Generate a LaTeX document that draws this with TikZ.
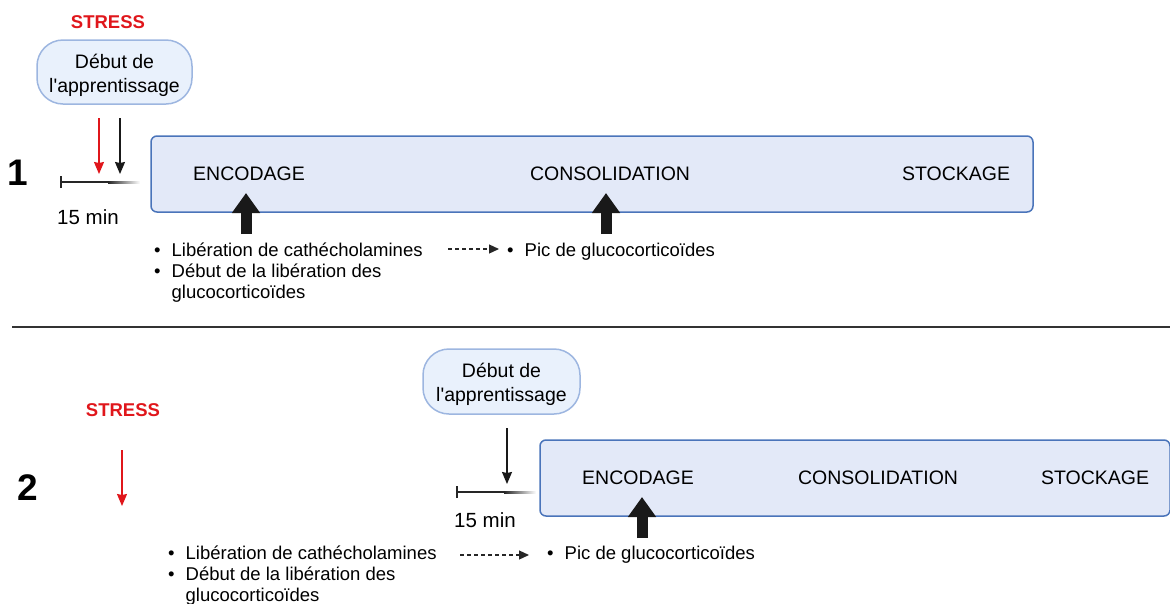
\documentclass[tikz,border=0pt]{standalone}
\usepackage{fontspec}
\setmainfont{Liberation Sans}
\usetikzlibrary{arrows.meta}

\definecolor{stressred}{HTML}{E0161B}
\definecolor{phasefill}{HTML}{E3E9F8}
\definecolor{phaseline}{HTML}{4A74BA}
\definecolor{learnfill}{HTML}{E9F1FC}
\definecolor{learnline}{HTML}{9DB6E0}

\tikzset{
  phasebox/.style={draw=phaseline, fill=phasefill, line width=1.5pt, rounded corners=6pt, minimum height=76pt},
  learnbox/.style={draw=learnline, fill=learnfill, line width=1.5pt, rounded corners=26pt, align=center,
    minimum height=64pt, inner sep=0pt, font=\fontsize{19.5}{24}\selectfont},
  phaselabel/.style={font=\fontsize{19.5}{23}\selectfont, inner sep=0pt},
  stresslabel/.style={font=\fontsize{18.5}{22}\selectfont\bfseries, text=stressred, inner sep=0pt},
  numlabel/.style={font=\fontsize{37}{40}\selectfont\bfseries, inner sep=0pt},
  minlabel/.style={font=\fontsize{20.5}{24}\selectfont, inner sep=0pt},
  listtext/.style={font=\fontsize{18.5}{21}\selectfont, inner sep=0pt, anchor=base west},
  stressarrow/.style={stressred, line width=1.4pt, -{Stealth[length=12pt,width=10pt,inset=1pt]}},
  learnarrow/.style={black!90, line width=1.4pt, -{Stealth[length=12pt,width=10pt,inset=1pt]}},
  bigarrow/.style={black!90, line width=11pt, -{Triangle[width=27pt,length=20pt]}},
  thenarrow/.style={black!85, line width=1.2pt, dash pattern=on 4pt off 3pt, -{Triangle[length=10pt,width=9pt]}},
  timebar/.style={black!85, line width=2pt, {Bar[width=12pt]}-}
}

\newcommand{\itemlist}{\begin{tabular}[t]{@{}l@{\hspace{11pt}}l@{}}
  \textbullet & Libération de cathécholamines\\
  \textbullet & Début de la libération des\\
              & glucocorticoïdes
\end{tabular}}
\newcommand{\learntext}{\rule{0pt}{21pt}Début de\\l\textquotesingle apprentissage}

\begin{document}
\begin{tikzpicture}[x=1pt, y=-1pt]
  \useasboundingbox (0,0) rectangle (1170,603);

  % --- scenario 1
  \node[stresslabel] (stress1) at (108,22) {STRESS};
  \node[learnbox, minimum width=155pt] (learn1) at (114.5,72) {\learntext};
  \node[numlabel] (num1) at (18,173) {1};
  \node[phasebox, minimum width=882pt] (phase1) at (592,174) {};
  \node[phaselabel] (enc1) at (249,174) {ENCODAGE};
  \node[phaselabel] (cons1) at (610,174) {CONSOLIDATION};
  \node[phaselabel] (stock1) at (956,174) {STOCKAGE};

  \coordinate (s1top) at (99,118);
  \coordinate (s1bot) at (99,174);
  \coordinate (l1top) at (120,118);
  \coordinate (l1bot) at (120,174);
  \draw[stressarrow] (s1top) -- (s1bot);
  \draw[learnarrow] (l1top) -- (l1bot);

  \coordinate (t1start) at (60,182);
  \coordinate (t1mid) at (108,182);
  \draw[timebar] (t1start) -- (t1mid);
  \shade[left color=black!85, right color=white] (108,181) rectangle (140,183);
  \node[minlabel] (min1) at (88,217) {15 min};

  \coordinate (b1a) at (246,234);
  \coordinate (b1b) at (606,234);
  \draw[bigarrow] (b1a) -- (246,193);
  \draw[bigarrow] (b1b) -- (606,193);

  \node[listtext] (list1) at (154,256) {\itemlist};
  \coordinate (d1a) at (448,249);
  \coordinate (d1b) at (499,249);
  \draw[thenarrow] (d1a) -- (d1b);
  \node[listtext] (pic1) at (507,256) {\textbullet\hspace{11pt}Pic de glucocorticoïdes};

  % --- separator
  \coordinate (sepL) at (12,327);
  \coordinate (sepR) at (1170,327);
  \draw[black!80, line width=1.6pt] (sepL) -- (sepR);

  % --- scenario 2
  \node[stresslabel] (stress2) at (123,410) {STRESS};
  \node[numlabel] (num2) at (28,488) {2};
  \node[learnbox, minimum width=157pt, minimum height=65pt] (learn2) at (501.5,381.5) {\learntext};
  \node[phasebox, minimum width=630pt] (phase2) at (855,478) {};
  \node[phaselabel] (enc2) at (638,478) {ENCODAGE};
  \node[phaselabel] (cons2) at (878,478) {CONSOLIDATION};
  \node[phaselabel] (stock2) at (1095,478) {STOCKAGE};

  \coordinate (s2top) at (122,450);
  \coordinate (s2bot) at (122,506);
  \draw[stressarrow] (s2top) -- (s2bot);
  \coordinate (l2top) at (507,428);
  \coordinate (l2bot) at (507,484);
  \draw[learnarrow] (l2top) -- (l2bot);

  \coordinate (t2start) at (456,492);
  \coordinate (t2mid) at (504,492);
  \draw[timebar] (t2start) -- (t2mid);
  \shade[left color=black!85, right color=white] (504,491) rectangle (536,493);
  \node[minlabel] (min2) at (485,520) {15 min};

  \coordinate (b2a) at (642,538);
  \draw[bigarrow] (b2a) -- (642,497);

  \node[listtext] (list2) at (168,559) {\itemlist};
  \coordinate (d2a) at (460,555);
  \coordinate (d2b) at (529,555);
  \draw[thenarrow] (d2a) -- (d2b);
  \node[listtext] (pic2) at (547,559) {\textbullet\hspace{11pt}Pic de glucocorticoïdes};
\end{tikzpicture}
\end{document}
